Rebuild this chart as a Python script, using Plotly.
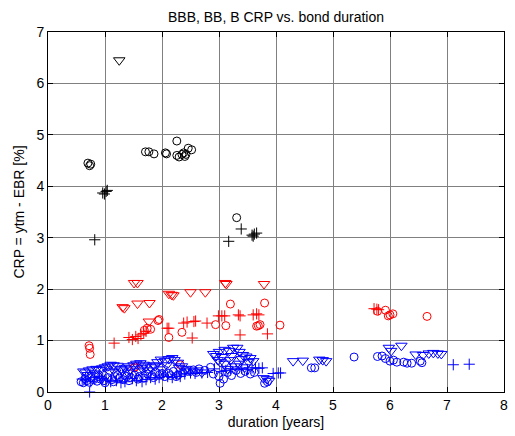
import plotly.graph_objects as go

# ---- data ----
black_tri_x = [1.25]
black_tri_y = [6.45]
black_circ_x = [0.70, 0.73, 0.75, 1.71, 1.77, 1.86, 2.06, 2.08, 2.26, 2.26, 2.30, 2.35, 2.38, 2.42, 2.46, 2.52, 2.40, 3.31]
black_circ_y = [4.45, 4.40, 4.43, 4.67, 4.67, 4.63, 4.65, 4.63, 4.88, 4.60, 4.57, 4.62, 4.65, 4.62, 4.74, 4.71, 4.58, 3.39]
black_plus_x = [0.96, 0.99, 1.02, 1.04, 0.82, 3.17, 3.39, 3.58, 3.62, 3.66, 3.60]
black_plus_y = [3.87, 3.85, 3.90, 3.92, 2.96, 2.93, 3.17, 3.05, 3.07, 3.09, 3.03]

red_tri_x = [1.51, 1.57, 1.31, 1.34, 1.57, 1.78, 2.12, 2.17, 2.20, 2.50, 2.76, 3.11, 3.13, 3.79, 1.77]
red_tri_y = [2.12, 2.12, 1.65, 1.63, 1.72, 1.73, 1.91, 1.89, 1.88, 1.94, 1.94, 2.12, 2.10, 2.10, 1.37]
red_circ_x = [0.72, 0.73, 0.74, 1.95, 1.93, 1.74, 1.80, 1.69, 2.12, 2.35, 2.94, 3.12, 3.20, 3.80, 3.69, 3.66, 3.72,
              4.07, 1.53, 1.51, 2.32, 5.78, 5.92, 5.97, 6.05, 6.00, 6.65]
red_circ_y = [0.90, 0.85, 0.73, 1.41, 1.39, 1.24, 1.22, 1.20, 1.06, 1.16, 1.31, 1.29, 1.71, 1.73, 1.29, 1.28, 1.31,
              1.30, 0.49, 0.47, 0.53, 1.57, 1.59, 1.48, 1.52, 1.50, 1.47]
red_plus_x = [1.16, 1.42, 1.48, 1.54, 1.58, 1.63, 1.68, 1.72, 2.09, 2.12, 2.38, 2.44, 2.56, 2.59, 2.79, 2.99, 3.05,
              3.10, 3.34, 3.37, 3.60, 3.66, 3.70, 3.37, 2.53, 3.85, 5.72, 5.77, 5.80]
red_plus_y = [0.95, 1.06, 1.02, 1.08, 1.04, 1.11, 1.14, 1.18, 1.24, 1.24, 1.34, 1.36, 1.37, 1.38, 1.34, 1.48, 1.48,
              1.48, 1.50, 1.48, 1.50, 1.52, 1.50, 1.11, 1.05, 1.13, 1.62, 1.61, 1.60]

blue_tri_x = [0.62, 0.66, 0.72, 0.78, 0.85, 0.90, 0.95, 1.00, 1.05, 1.10, 1.15, 1.22, 1.28, 1.35, 1.42, 1.50, 1.55,
              1.62, 1.68, 1.72, 1.80, 1.85, 1.92, 1.98, 2.05, 2.12, 2.18, 2.22, 2.28, 2.35, 2.42, 1.40, 1.58, 1.75,
              2.00, 2.60, 2.90, 2.95, 3.00, 3.05, 3.10, 3.18, 3.25, 3.32, 3.36, 3.42, 3.48, 3.55, 3.60, 3.02, 3.10,
              3.20, 3.28, 3.35, 3.45, 3.15, 3.78, 3.84, 3.88, 4.30, 4.47, 4.76, 4.82, 4.88, 5.98, 6.02, 6.20, 6.45,
              6.58, 6.68, 6.76, 6.84, 6.90,
              0.70, 0.82, 1.08, 1.18, 1.30, 1.45, 1.65, 1.88, 2.08, 2.30, 2.50, 2.70, 2.98, 3.22, 3.40, 3.52]
blue_tri_y = [0.40, 0.38, 0.42, 0.44, 0.45, 0.43, 0.46, 0.48, 0.50, 0.53, 0.52, 0.51, 0.45, 0.47, 0.50, 0.52, 0.55,
              0.56, 0.53, 0.50, 0.48, 0.52, 0.58, 0.63, 0.60, 0.64, 0.66, 0.62, 0.57, 0.50, 0.45, 0.38, 0.40, 0.42,
              0.44, 0.42, 0.74, 0.70, 0.78, 0.68, 0.82, 0.80, 0.86, 0.86, 0.78, 0.72, 0.69, 0.66, 0.60, 0.58, 0.55,
              0.62, 0.50, 0.55, 0.48, 0.45, 0.27, 0.25, 0.22, 0.60, 0.61, 0.63, 0.62, 0.60, 0.86, 0.80, 0.90, 0.73,
              0.72, 0.75, 0.76, 0.75, 0.74,
              0.33, 0.36, 0.40, 0.38, 0.42, 0.44, 0.46, 0.50, 0.52, 0.47, 0.40, 0.38, 0.62, 0.70, 0.64, 0.58]
blue_circ_x = [0.58, 0.62, 0.68, 0.72, 0.80, 0.86, 0.92, 0.98, 1.05, 1.12, 1.18, 1.25, 1.32, 1.38, 1.45, 1.52, 1.60,
               1.68, 1.75, 1.82, 1.90, 1.96, 2.05, 2.12, 2.20, 2.28, 2.36, 2.45, 2.55, 2.65, 2.75, 2.85, 2.90, 3.00,
               3.02, 3.08, 3.15, 3.22, 3.30, 3.38, 3.46, 3.55, 3.62, 3.80, 3.85, 4.62, 4.68, 5.37, 5.78, 5.86, 5.92,
               6.00, 6.06, 6.12, 6.24, 6.30, 6.38, 6.53, 6.56,
               0.65, 0.76, 0.88, 1.00, 1.15, 1.22, 1.35, 1.42, 1.58, 1.70, 1.85, 2.00, 2.15, 2.25, 2.40, 2.60]
blue_circ_y = [0.20, 0.18, 0.22, 0.19, 0.24, 0.21, 0.25, 0.22, 0.28, 0.24, 0.30, 0.27, 0.24, 0.30, 0.28, 0.33, 0.30,
               0.27, 0.35, 0.32, 0.38, 0.34, 0.30, 0.36, 0.40, 0.33, 0.38, 0.40, 0.43, 0.45, 0.42, 0.48, 0.35, 0.30,
               0.17, 0.25, 0.38, 0.32, 0.42, 0.36, 0.40, 0.35, 0.38, 0.17, 0.20, 0.47, 0.47, 0.68, 0.69, 0.70, 0.65,
               0.60, 0.62, 0.58, 0.58, 0.56, 0.56, 0.60, 0.57,
               0.26, 0.28, 0.30, 0.18, 0.20, 0.33, 0.32, 0.22, 0.25, 0.32, 0.28, 0.36, 0.32, 0.30, 0.42, 0.38]
blue_plus_x = [0.73, 0.60, 0.66, 0.75, 0.82, 0.90, 0.96, 1.02, 1.10, 1.20, 1.28, 1.35, 1.48, 1.55, 1.65, 1.72, 1.80,
               1.88, 1.95, 2.02, 2.10, 2.18, 2.25, 2.32, 2.40, 2.50, 2.58, 2.70, 2.80, 2.92, 3.05, 3.12, 3.20, 3.30,
               3.40, 3.50, 3.58, 3.64, 3.70, 3.76, 3.95, 4.04, 4.08, 7.11, 7.39]
blue_plus_y = [0.00, 0.25, 0.23, 0.20, 0.28, 0.30, 0.26, 0.23, 0.20, 0.22, 0.18, 0.20, 0.26, 0.22, 0.20, 0.24, 0.28,
               0.25, 0.28, 0.33, 0.30, 0.28, 0.33, 0.30, 0.35, 0.37, 0.36, 0.37, 0.38, 0.45, 0.40, 0.42, 0.45, 0.44,
               0.46, 0.44, 0.47, 0.47, 0.46, 0.47, 0.36, 0.37, 0.37, 0.53, 0.54]

x_ticks = [0, 1, 2, 3, 4, 5, 6, 7, 8]
y_ticks = [0, 1, 2, 3, 4, 5, 6, 7]

FONT = "Liberation Sans, Arial, sans-serif"
FS = 14

fig = go.Figure()


def add(xs, ys, color, symbol, size):
    fig.add_trace(go.Scatter(
        x=xs, y=ys, mode="markers", cliponaxis=False, showlegend=False,
        marker=dict(symbol=symbol, size=size, color=color,
                    line=dict(color=color, width=1)),
    ))


for col, tri, circ, plus in [
    ("#000000", (black_tri_x, black_tri_y), (black_circ_x, black_circ_y), (black_plus_x, black_plus_y)),
    ("#ff0000", (red_tri_x, red_tri_y), (red_circ_x, red_circ_y), (red_plus_x, red_plus_y)),
    ("#0000ff", (blue_tri_x, blue_tri_y), (blue_circ_x, blue_circ_y), (blue_plus_x, blue_plus_y)),
]:
    add(*circ, col, "circle-open", 8)
    add(*tri, col, "triangle-down-open", 10)
    add(*plus, col, "cross-thin-open", 8)

axis_common = dict(
    showgrid=True, gridcolor="#808080", gridwidth=1,
    showline=True, linecolor="#000000", linewidth=1, mirror="ticks",
    ticks="inside", ticklen=5, tickcolor="#000000",
    tickfont=dict(family=FONT, size=FS, color="#000000"),
    zeroline=False, fixedrange=True,
)

fig.update_layout(
    width=515, height=436,
    margin=dict(l=48, r=7, t=32, b=44),
    paper_bgcolor="#ffffff", plot_bgcolor="#ffffff",
    font=dict(family=FONT, size=FS, color="#000000"),
    title=dict(text="BBB, BB, B CRP vs. bond duration", x=0.5, xref="paper",
               y=1 - 17 / 436, yref="container", yanchor="middle",
               font=dict(family=FONT, size=FS, color="#000000")),
    xaxis=dict(range=[0, 8], tickvals=x_ticks, ticktext=[str(v) for v in x_ticks],
               title=dict(text="duration [years]", standoff=5,
                          font=dict(family=FONT, size=FS)), **axis_common),
    yaxis=dict(range=[0, 7], tickvals=y_ticks, ticktext=[str(v) for v in y_ticks],
               title=dict(text="CRP = ytm - EBR [%]", standoff=8,
                          font=dict(family=FONT, size=FS)), **axis_common),
)

fig.write_html("out.html")
